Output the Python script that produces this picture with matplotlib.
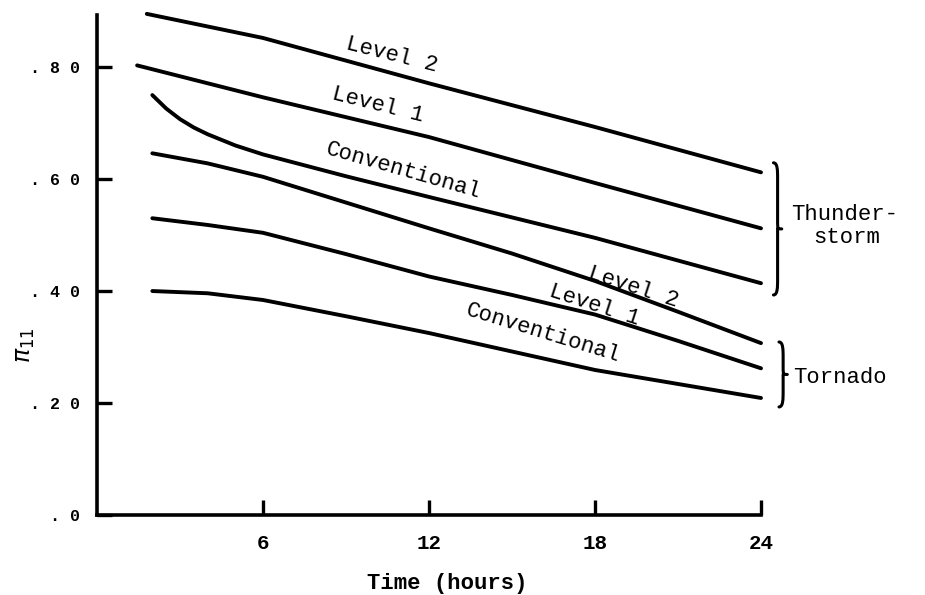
import numpy as np
import matplotlib
matplotlib.use("Agg")
import matplotlib.pyplot as plt
from matplotlib.path import Path
from matplotlib.patches import PathPatch

# valores (horas, pi_11)
ts_l2_t = [1.8, 6, 12, 18, 24]
ts_l2_v = [0.895, 0.852, 0.771, 0.693, 0.612]

ts_l1_t = [1.45, 6, 12, 18, 24]
ts_l1_v = [0.803, 0.746, 0.675, 0.593, 0.512]

ts_cv_t = [2, 2.5, 3, 3.5, 4, 5, 6, 9, 12, 18, 24]
ts_cv_v = [0.750, 0.726, 0.707, 0.692, 0.680, 0.660, 0.644, 0.605, 0.568, 0.495, 0.414]

to_l2_t = [2, 4, 6, 9, 12, 15, 18, 21, 24]
to_l2_v = [0.646, 0.628, 0.604, 0.558, 0.512, 0.467, 0.418, 0.363, 0.307]

to_l1_t = [2, 4, 6, 9, 12, 15, 18, 21, 24]
to_l1_v = [0.530, 0.518, 0.504, 0.466, 0.426, 0.393, 0.358, 0.311, 0.262]

to_cv_t = [2, 4, 6, 9, 12, 15, 18, 21, 24]
to_cv_v = [0.400, 0.396, 0.384, 0.355, 0.325, 0.292, 0.259, 0.234, 0.209]

xticks = [6, 12, 18, 24]
yticks = [0.0, 0.2, 0.4, 0.6, 0.8]
ylabels = [". 0", ". 2 0", ". 4 0", ". 6 0", ". 8 0"]

font = "Liberation Mono"
plt.rcParams['font.family'] = [font, 'DejaVu Sans']

fig = plt.figure(figsize=(9.25, 5.95), dpi=100)
ax = fig.add_axes([97/925, 80/595, 664/925, 500/595])

lw = 2.8
for t, v in [(ts_l2_t, ts_l2_v), (ts_l1_t, ts_l1_v), (ts_cv_t, ts_cv_v),
             (to_l2_t, to_l2_v), (to_l1_t, to_l1_v), (to_cv_t, to_cv_v)]:
    ax.plot(t, v, color='black', lw=lw, solid_capstyle='round',
            solid_joinstyle='round', clip_on=False)

ax.set_xlim(0, 24)
ax.set_ylim(0, 0.893)
for s in ['top', 'right']:
    ax.spines[s].set_visible(False)
for s in ['left', 'bottom']:
    ax.spines[s].set_linewidth(2.6)

ax.set_xticks(xticks)
ax.set_xticklabels([str(x) for x in xticks], fontsize=15, fontweight='bold')
ax.set_yticks(yticks)
ax.set_yticklabels(ylabels, fontsize=12, fontweight='bold')
ax.tick_params(axis='both', direction='in', length=11, width=2.4)
ax.tick_params(axis='x', pad=14)
ax.tick_params(axis='y', pad=12)

ax.set_xlabel("Time (hours)", fontsize=16, fontweight='bold')
ax.xaxis.set_label_coords(0.527, -0.115)
ax.set_ylabel(r"$\pi_{11}$", fontsize=17)
ax.yaxis.set_label_coords(-0.09, 0.34)

# rotulos das curvas
lab = dict(fontsize=16, ha='center', va='center')
ax.text(10.66, 0.821, "Level 2", rotation=-14, **lab)
ax.text(10.16, 0.732, "Level 1", rotation=-14, **lab)
ax.text(11.06, 0.614, "Conventional", rotation=-16, **lab)
ax.text(19.37, 0.407, "Level 2", rotation=-18, **lab)
ax.text(17.96, 0.374, "Level 1", rotation=-18, **lab)
ax.text(16.12, 0.324, "Conventional", rotation=-17, **lab)


def brace(x, y0, y1, w, q):
    ym = (y0 + y1) / 2
    verts = [(x, y0), (x + w/2, y0), (x + w/2, y0 - q), (x + w/2, y0 - 2*q),
             (x + w/2, ym + q),
             (x + w/2, ym), (x + w/2, ym), (x + w, ym),
             (x + w/2, ym), (x + w/2, ym), (x + w/2, ym - q),
             (x + w/2, y1 + 2*q),
             (x + w/2, y1 + q), (x + w/2, y1), (x, y1)]
    codes = [Path.MOVETO, Path.CURVE4, Path.CURVE4, Path.CURVE4,
             Path.LINETO,
             Path.CURVE4, Path.CURVE4, Path.CURVE4,
             Path.MOVETO, Path.CURVE4, Path.CURVE4,
             Path.LINETO,
             Path.CURVE4, Path.CURVE4, Path.CURVE4]
    p = PathPatch(Path(verts, codes), fill=False, lw=2.2, color='black',
                  clip_on=False, capstyle='round')
    ax.add_patch(p)


brace(24.45, 0.629, 0.393, 0.30, 0.014)
brace(24.65, 0.309, 0.193, 0.30, 0.014)

side = dict(fontsize=16, va='center', clip_on=False)
ax.text(25.1, 0.536, "Thunder-", ha='left', **side)
ax.text(27.1, 0.495, "storm", ha='center', **side)
ax.text(25.15, 0.246, "Tornado", ha='left', **side)

fig.savefig("out.png", dpi=100)
